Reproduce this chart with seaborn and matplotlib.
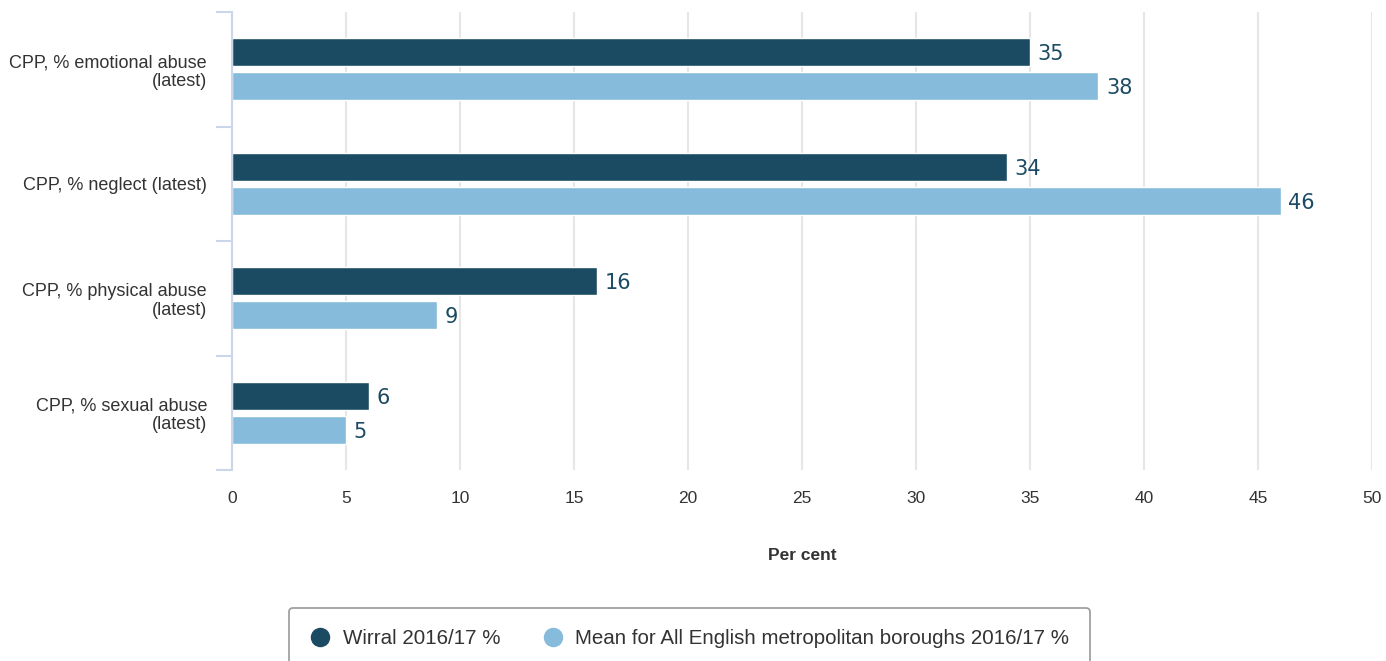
import numpy as np
import pandas as pd
import matplotlib
matplotlib.use("Agg")
import matplotlib.pyplot as plt
import seaborn as sns
from matplotlib.lines import Line2D

# ---- data ----
categories = [
    "CPP, % emotional abuse\n(latest)",
    "CPP, % neglect (latest)",
    "CPP, % physical abuse\n(latest)",
    "CPP, % sexual abuse\n(latest)",
]
series_names = ["Wirral 2016/17 %", "Mean for All English metropolitan boroughs 2016/17 %"]
wirral = [35, 34, 16, 6]
mean_met = [38, 46, 9, 5]
x_ticks = [0, 5, 10, 15, 20, 25, 30, 35, 40, 45, 50]
x_label = "Per cent"

dark = "#1b4b63"
light = "#86bbdb"
txt = "#333333"

df = pd.DataFrame({
    "category": categories * 2,
    "series": [series_names[0]] * len(categories) + [series_names[1]] * len(categories),
    "value": wirral + mean_met,
})

sns.set_theme(style="white")
plt.rcParams["font.family"] = ["Liberation Sans", "DejaVu Sans"]

W, H = 1386, 661
fig = plt.figure(figsize=(W / 100, H / 100), dpi=100)
ax = fig.add_axes([232 / W, 1 - 470 / H, (1372 - 232) / W, (470 - 12) / H])

sns.barplot(
    data=df, y="category", x="value", hue="series", orient="h",
    order=categories, hue_order=series_names, palette=[dark, light],
    saturation=1, width=0.59, gap=0.17, edgecolor="white", linewidth=1,
    ax=ax, legend=False, errorbar=None,
)

for cont in ax.containers:
    texts = ax.bar_label(cont, fmt="%g", padding=5.5, fontsize=15, color=dark, family="DejaVu Sans")
    for t in texts:
        t.set_verticalalignment("center_baseline")

ax.set_xlim(x_ticks[0], x_ticks[-1])
ax.set_ylim(len(categories) - 0.5, -0.5)
ax.set_xticks(x_ticks)
ax.set_xticklabels([str(t) for t in x_ticks])
ax.xaxis.grid(True, color="#e6e6e6", linewidth=1.5)
ax.yaxis.grid(False)
ax.set_axisbelow(True)

for s in ["top", "right", "bottom"]:
    ax.spines[s].set_visible(False)
ax.spines["left"].set_color("#ccd6eb")
ax.spines["left"].set_linewidth(1.5)

ax.set_yticks(range(len(categories)))
ax.set_yticks([i - 0.5 for i in range(len(categories) + 1)], minor=True)
ax.tick_params(axis="y", which="major", left=False, length=0, pad=18, labelsize=13, labelcolor=txt)
ax.tick_params(axis="y", which="minor", left=True, length=11.5, width=1.5, color="#ccd6eb", direction="out")
ax.tick_params(axis="x", which="both", bottom=False, length=0, pad=15, labelsize=12.5, labelcolor=txt)
for lbl in ax.get_yticklabels():
    lbl.set_linespacing(1.1)

ax.set_ylabel("")
ax.set_xlabel(x_label, fontsize=12.5, fontweight="bold", color=txt, labelpad=30)

handles = [Line2D([], [], marker="o", linestyle="none", markersize=13,
                  markerfacecolor=c, markeredgecolor=c) for c in (dark, light)]
leg = fig.legend(handles, series_names, loc="upper center",
                 bbox_to_anchor=(689.5 / W, 1 - 598 / H), ncol=2, frameon=True,
                 fancybox=True, fontsize=14.8, handlelength=1.0, handletextpad=0.6,
                 columnspacing=2.05, borderpad=1.0, labelcolor=txt)
fr = leg.get_frame()
fr.set_edgecolor("#999999")
fr.set_linewidth(1.2)
fr.set_alpha(1)

fig.savefig("out.png", dpi=100)
